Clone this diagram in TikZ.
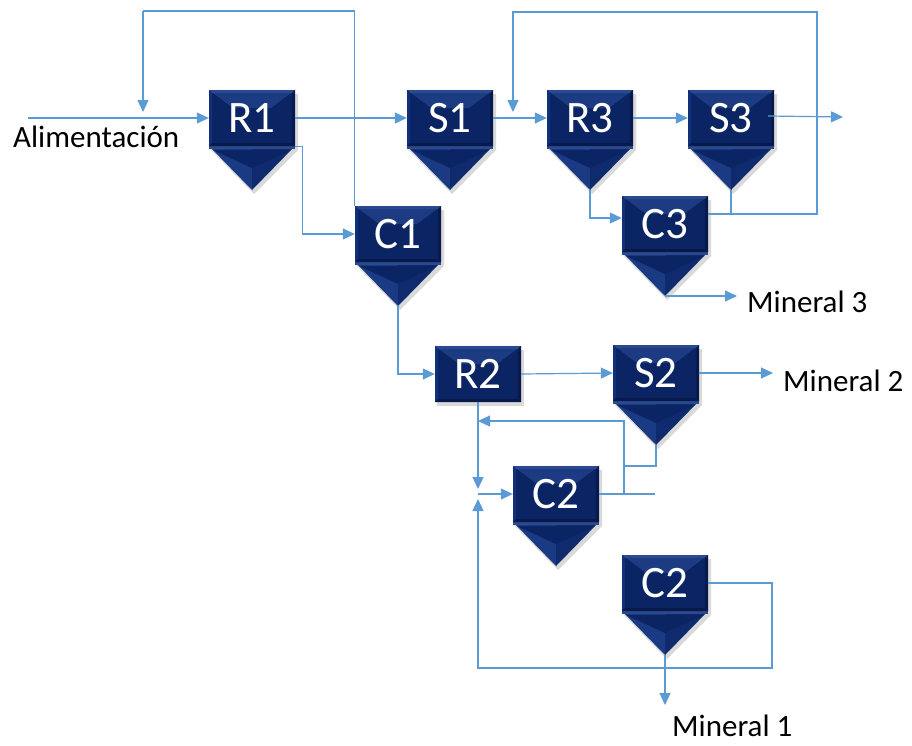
\documentclass[tikz,border=0pt]{standalone}
\usepackage{fontspec}
\setmainfont{Carlito}
\usetikzlibrary{arrows.meta,calc}

\definecolor{flowblue}{HTML}{5B9BD5}
\definecolor{navy}{HTML}{0B2463}
\definecolor{navytop}{HTML}{2A4A8E}
\definecolor{navyhi}{HTML}{1C3B82}
\definecolor{navyside}{HTML}{12307A}
\definecolor{navybot}{HTML}{08194C}
\definecolor{tipleft}{HTML}{1B3A84}
\definecolor{tipright}{HTML}{0F2B6E}

\tikzset{
  flow/.style={draw=flowblue, line width=1.2pt},
  arr/.style={flow, -{Triangle[length=12pt,width=11pt]}},
  unitlabel/.style={text=white, font=\fontsize{45}{45}\selectfont, inner sep=0pt,
    minimum width=86pt, minimum height=56pt},
  streamlabel/.style={text=black, font=\fontsize{31}{31}\selectfont, inner sep=0pt, anchor=base west},
}

% bevelled box 86 x 56 with its top-left corner at (#1,#2)
\newcommand\boxbody[2]{%
  \begin{scope}[shift={(#1,#2)}]
    \fill[navy] (0,0) rectangle (86,56);
    \fill[navyhi] (0,0) -- (86,0) -- (62,18) -- (24,18) -- cycle;
    \fill[navytop] (0,0) -- (86,0) -- (83,3) -- (3,3) -- cycle;
    \fill[navyside] (0,0) -- (3,3) -- (3,53) -- (0,56) -- cycle;
    \fill[navybot] (86,0) -- (86,56) -- (83,53) -- (83,3) -- cycle;
    \fill[navybot] (0,56) -- (3,53) -- (83,53) -- (86,56) -- cycle;
  \end{scope}}

% hopper: bevelled box with a downward tip
\newcommand\hopperunit[4]{%
  \begin{scope}[shift={(#2,#3)}]
    \fill[black, opacity=.15] (2,4) -- (89,4) -- (89,60) -- (45,104) -- (2,60) -- cycle;
    \fill[tipleft] (0,56) -- (43,56) -- (43,100) -- cycle;
    \fill[tipright] (43,56) -- (86,56) -- (43,100) -- cycle;
    \fill[navy] (4,60) -- (82,60) -- (43,78) -- cycle;
    \fill[navytop] (0,56) rectangle (86,59);
  \end{scope}
  \boxbody{#2}{#3}
  \node[unitlabel] (#1) at (#2+43,#3+28) {#4};
  \coordinate (#1-tip) at (#2+43,#3+100);}

% plain bevelled box without tip
\newcommand\plainunit[4]{%
  \fill[black, opacity=.15] (#2+2,#3+4) rectangle (#2+89,#3+60);
  \boxbody{#2}{#3}
  \node[unitlabel] (#1) at (#2+43,#3+28) {#4};}

\begin{document}
\begin{tikzpicture}[x=1pt,y=-1pt]
\useasboundingbox (0,0) rectangle (912,745);

% units
\hopperunit{R1}{209}{90}{R1}
\hopperunit{S1}{407}{90}{S1}
\hopperunit{R3}{547}{90}{R3}
\hopperunit{S3}{688}{90}{S3}
\hopperunit{C1}{355}{206}{C1}
\hopperunit{C3}{622}{196}{C3}
\plainunit{R2}{435}{346}{R2}
\hopperunit{S2}{613}{345}{S2}
\hopperunit{C2a}{513}{466}{C2}
\hopperunit{C2b}{622}{555}{C2}

% feed and first recycle
\coordinate (feed) at (28,118);
\draw[arr] (feed) -- (R1.west);
\node[streamlabel] (alim) at (13,147) {Alimentación};
\coordinate (rc1) at (143,11);
\coordinate (mix1) at (143,118);
\draw[flow] (C1.north west) |- (rc1);
\draw[arr, shorten >=6pt] (rc1) -- (mix1);

\draw[arr] (R1.east) -- (S1.west);
\draw[arr] (R1.south east) -- ++(7,0) |- (C1.west);

% third circuit
\draw[arr] (S1.east) -- (R3.west);
\coordinate (mix2) at (513,118);
\coordinate (c3out) at ($(C3.east)+(0,-10)$);
\coordinate (rc2) at (817,12);
\draw[arr, shorten >=6pt] (c3out) -| (rc2) -| (mix2);
\draw[flow] (S3-tip) -- (S3-tip |- c3out);
\draw[arr] (R3.east) -- (S3.west);
\coordinate (out3) at (843,117);
\draw[arr] ($(S3.east)+(-6,-2)$) -- (out3);
\draw[arr] (R3-tip) |- ($(C3.west)+(0,-6)$);
\coordinate (m3) at (737,296);
\draw[arr] (C3-tip) -- (m3);
\node[streamlabel] (min3) at (747,312) {Mineral 3};

% second circuit
\draw[arr] (C1-tip) |- (R2.west);
\draw[arr] (R2.east) -- (S2.west);
\coordinate (m2) at (773,373);
\draw[arr] (S2.east) -- (m2);
\node[streamlabel] (min2) at (783,391) {Mineral 2};

\coordinate (junc) at (478,494);
\draw[arr, shorten >=5pt] (R2.south) -- (junc);
\draw[arr] (junc) -- (C2a.west);
\coordinate (c2split) at (624,494);
\coordinate (c2end) at (655,494);
\coordinate (ret) at (478,421);
\coordinate (s2drop) at (624,466);
\draw[flow] (C2a.east) -- (c2end);
\draw[arr] (c2split) |- (ret);
\draw[flow] (S2-tip) |- (s2drop);

% first mineral loop
\coordinate (lp1) at (772,668);
\draw[arr, shorten >=5pt] (C2b.east) -| (lp1) -| (junc);
\coordinate (m1) at (665,705);
\draw[arr] (C2b-tip) -- (m1);
\node[streamlabel] (min1) at (672,736) {Mineral 1};
\end{tikzpicture}
\end{document}
